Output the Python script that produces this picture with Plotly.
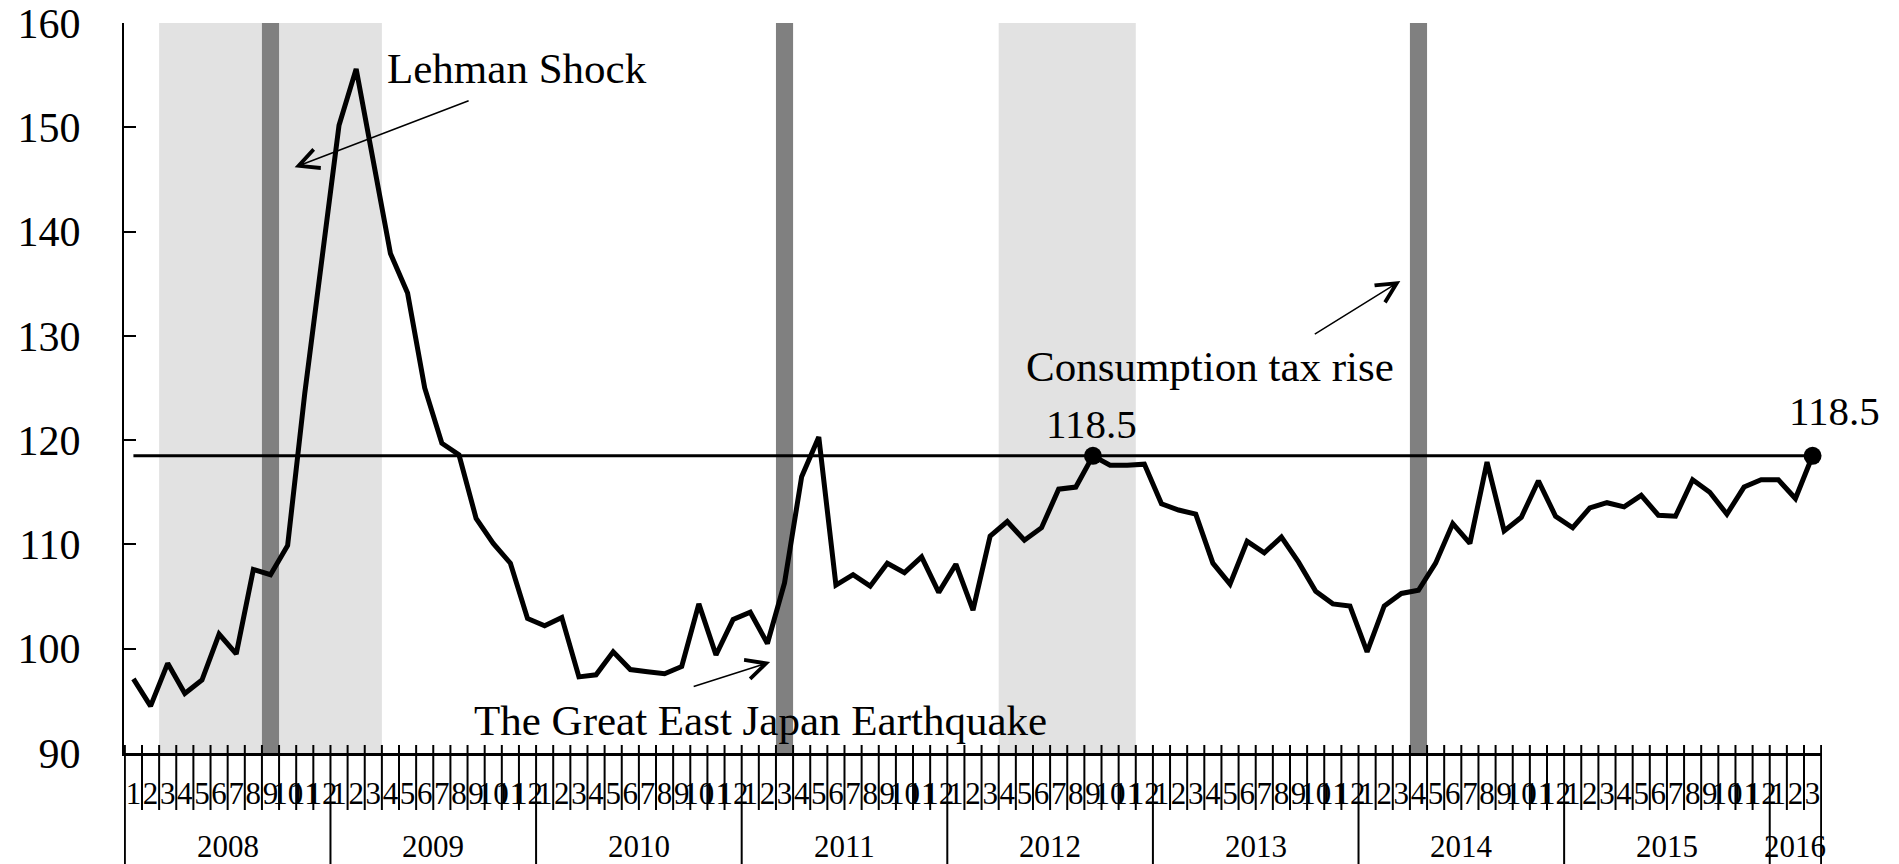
import plotly.graph_objects as go

# ---------------- data ----------------
years = [2008, 2009, 2010, 2011, 2012, 2013, 2014, 2015, 2016]
months_in_year = [12, 12, 12, 12, 12, 12, 12, 12, 3]

values = [
    97.1, 94.5, 98.6, 95.7, 97.0, 101.4, 99.5, 107.6, 107.1, 109.9, 124.5, 137.5,   # 2008
    150.2, 155.6, 146.5, 137.9, 134.1, 125.0, 119.7, 118.6, 112.5, 110.1, 108.2, 102.9,  # 2009
    102.2, 103.0, 97.3, 97.5, 99.7, 98.0, 97.8, 97.6, 98.3, 104.3, 99.4, 102.8,   # 2010
    103.5, 100.5, 106.3, 116.5, 120.3, 106.1, 107.1, 106.0, 108.2, 107.3, 108.8, 105.4,  # 2011
    108.1, 103.7, 110.8, 112.2, 110.4, 111.6, 115.3, 115.5, 118.5, 117.6, 117.6, 117.7,  # 2012
    113.9, 113.3, 112.9, 108.2, 106.2, 110.3, 109.2, 110.7, 108.3, 105.5, 104.3, 104.1,  # 2013
    99.7, 104.1, 105.3, 105.6, 108.2, 112.0, 110.1, 117.9, 111.3, 112.6, 116.1, 112.7,   # 2014
    111.6, 113.5, 114.0, 113.6, 114.7, 112.8, 112.7, 116.2, 115.0, 112.9, 115.5, 116.2,  # 2015
    116.2, 114.4, 118.5,                                                             # 2016
]

reference_value = 118.5
highlight_points = [(2012, 9), (2016, 3)]

# recession periods (shaded) and events (dark bars)
shade_periods = [((2008, 3), (2009, 3)), ((2012, 4), (2012, 11))]
events = [(2008, 9), (2011, 3), (2014, 4)]
event_texts = ["Lehman Shock", "The Great East Japan Earthquake", "Consumption tax rise"]

y_ticks = [90, 100, 110, 120, 130, 140, 150, 160]

# ---------------- derived ----------------
month_labels = []
for yr, cnt in zip(years, months_in_year):
    for m in range(1, cnt + 1):
        month_labels.append(str(m))
x_idx = list(range(len(values)))


def idx(ym):
    yr, m = ym
    return sum(months_in_year[:years.index(yr)]) + m - 1


FONT = "Liberation Serif"
PH = 730.0  # plot height in px (for paper-fraction styling offsets)

fig = go.Figure()

# reference horizontal line
fig.add_trace(go.Scatter(x=[x_idx[0], x_idx[-1]], y=[reference_value, reference_value],
                         mode="lines", line=dict(color="black", width=3),
                         hoverinfo="skip"))
# main series
fig.add_trace(go.Scatter(x=x_idx, y=values, mode="lines",
                         line=dict(color="black", width=5)))
# highlighted markers
hx = [idx(p) for p in highlight_points]
fig.add_trace(go.Scatter(x=hx, y=[values[i] for i in hx], mode="markers",
                         marker=dict(color="black", size=18)))

shapes = []
for a, b in shade_periods:
    shapes.append(dict(type="rect", xref="x", yref="paper", x0=idx(a) - 0.5, x1=idx(b) + 0.5,
                       y0=0, y1=1, fillcolor="#e2e2e2", line=dict(width=0), layer="below"))
for e in events:
    i = idx(e)
    shapes.append(dict(type="rect", xref="x", yref="paper", x0=i - 0.5, x1=i + 0.5,
                       y0=0, y1=1, fillcolor="#808080", line=dict(width=0), layer="below"))

# category boundary lines under the axis
year_starts = set()
acc = 0
for cnt in months_in_year:
    year_starts.add(acc)
    acc += cnt
year_starts.add(len(values))
for k in range(len(values) + 1):
    long_line = k in year_starts
    shapes.append(dict(type="line", xref="x", yref="paper", x0=k - 0.5, x1=k - 0.5,
                       y0=8 / PH, y1=(-111 / PH if long_line else -57 / PH),
                       line=dict(color="black", width=2), layer="above"))

annotations = []
# year labels
acc = 0
for yr, cnt in zip(years, months_in_year):
    center = (x_idx[acc] + x_idx[acc + cnt - 1]) / 2
    annotations.append(dict(x=center, y=-93 / PH, xref="x", yref="paper", text=str(yr),
                            showarrow=False, font=dict(family=FONT, size=31, color="black"),
                            xanchor="center", yanchor="middle"))
    acc += cnt

# event texts and arrows (positions are layout choices)
text_pos = [(22.36, 155.68), (36.58, 93.16), (62.85, 127.1)]
arrows = [((19.65, 152.6), (9.41, 146.16)),
          ((32.61, 96.33), (37.16, 98.72)),
          ((68.86, 130.08), (73.94, 135.25))]
for t, (tx, ty) in zip(event_texts, text_pos):
    annotations.append(dict(x=tx, y=ty, xref="x", yref="y", text=t, showarrow=False,
                            font=dict(family=FONT, size=43, color="black"),
                            xanchor="center", yanchor="middle"))
for (tail, head) in arrows:
    annotations.append(dict(x=head[0], y=head[1], ax=tail[0], ay=tail[1], xref="x", yref="y",
                            axref="x", ayref="y", text="", showarrow=True,
                            arrowhead=5, arrowsize=2.6, arrowwidth=1.5, arrowcolor="black",
                            standoff=0, startstandoff=0))

# value labels on highlighted points
label_shift = [(-1, 32), (22, 45)]
for i, (xs, ys) in zip(hx, label_shift):
    annotations.append(dict(x=i, y=values[i], xref="x", yref="y", text=f"{values[i]:.1f}",
                            showarrow=False, xshift=xs, yshift=ys,
                            font=dict(family=FONT, size=41, color="black"),
                            xanchor="center", yanchor="middle"))

# the page body adds an 8px offset; the figure is sized to fit the window
fig.update_layout(
    width=1891, height=856,
    margin=dict(l=116, r=77, t=15, b=111, pad=0, autoexpand=False),
    paper_bgcolor="white", plot_bgcolor="white",
    showlegend=False,
    font=dict(family=FONT, color="black"),
    shapes=shapes, annotations=annotations,
    xaxis=dict(range=[-0.55, len(values) - 0.45], showgrid=False, zeroline=False,
               automargin=False, ticklabeloverflow="allow",
               showline=True, linecolor="black", linewidth=2.5,
               tickmode="array", tickvals=x_idx, ticktext=month_labels, tickangle=0,
               ticks="", tickfont=dict(family=FONT, size=31, color="black"),
               ticklabelstandoff=11),
    yaxis=dict(range=[90, 160], showgrid=False, zeroline=False,
               automargin=False, ticklabeloverflow="allow",
               showline=True, linecolor="black", linewidth=2,
               tickmode="array", tickvals=y_ticks, ticks="inside", ticklen=12,
               tickwidth=2, tickcolor="black",
               tickfont=dict(family=FONT, size=42, color="black"),
               ticklabelstandoff=33),
)

fig.write_html("out.html")
